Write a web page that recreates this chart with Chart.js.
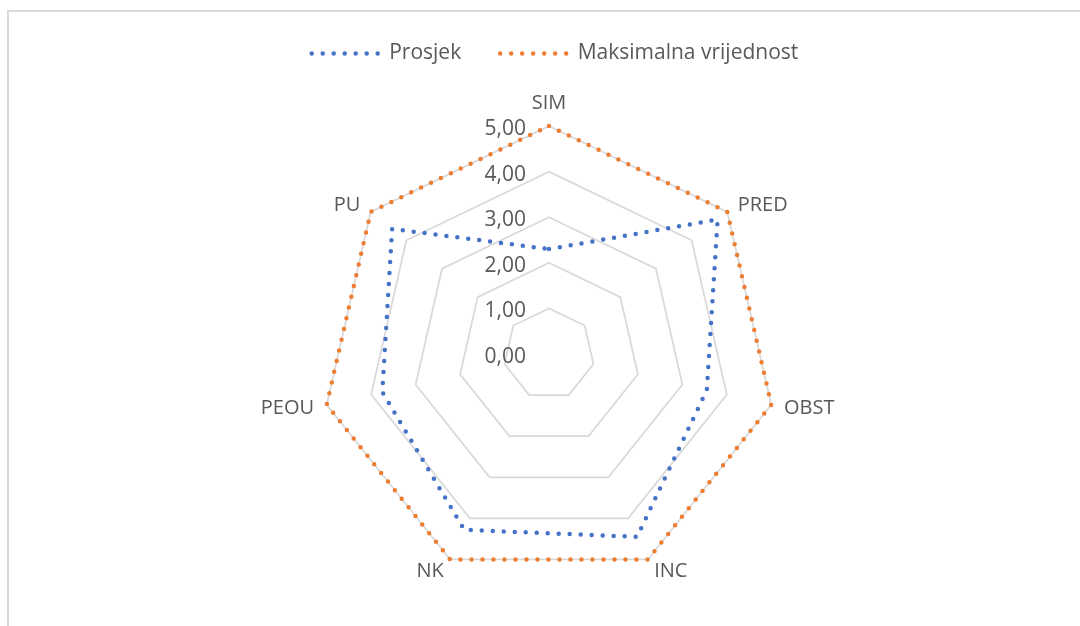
<!DOCTYPE html>
<html>
<head>
<meta charset="utf-8">
<script src="https://cdn.jsdelivr.net/npm/chart.js@4.4.1/dist/chart.umd.min.js"></script>
<style>
  html, body { margin: 0; padding: 0; background: #fff; }
  #wrap { position: relative; width: 1080px; height: 626px; overflow: hidden; }
  #frame { position: absolute; left: 7px; top: 10px; width: 1100px; height: 640px; border: 2px solid #d9d9d9; box-sizing: border-box; }
  #radarChart { position: absolute; left: 0; top: 0; }
</style>
</head>
<body>
<div id="wrap">
  <div id="frame"></div>
  <canvas id="radarChart" width="1080" height="626"></canvas>
</div>
<script>
// chart data
const categories = ["SIM", "PRED", "OBST", "INC", "NK", "PEOU", "PU"];
const prosjek = [2.30, 4.73, 3.55, 4.45, 4.28, 3.75, 4.40];
const maksimalna = [5.00, 5.00, 5.00, 5.00, 5.00, 5.00, 5.00];
const tickValues = [0, 1, 2, 3, 4, 5];

const textColor = "#595959";
const fontFamily = "'Open Sans', sans-serif";

function fmt(v) {
    return v.toFixed(2).replace(".", ",");
}

// draws the value labels left of the axis and the category labels, like Excel does
const excelLabels = {
    id: "excelLabels",
    afterDraw(chart) {
        const scale = chart.scales.r;
        const ctx = chart.ctx;
        ctx.save();
        ctx.fillStyle = textColor;
        ctx.textBaseline = "alphabetic";

        ctx.font = "21px " + fontFamily;
        ctx.textAlign = "right";
        tickValues.forEach(function (v) {
            const y = scale.yCenter - scale.getDistanceFromCenterForValue(v);
            ctx.fillText(fmt(v), scale.xCenter - 23, y + 9);
        });

        ctx.font = "20px " + fontFamily;
        categories.forEach(function (label, i) {
            const pos = scale.getPointPosition(i, scale.drawingArea + 12);
            const s = Math.sin(scale.getIndexAngle(i));
            if (Math.abs(s) < 0.05) {
                ctx.textAlign = "center";
                ctx.fillText(label, pos.x, pos.y - 5);
            } else {
                ctx.textAlign = s > 0 ? "left" : "right";
                ctx.fillText(label, pos.x + (s > 0 ? 1 : -1), pos.y + 7);
            }
        });
        ctx.restore();
    }
};

const ctx = document.getElementById("radarChart").getContext("2d");

new Chart(ctx, {
    type: "radar",
    data: {
        labels: categories,
        datasets: [
            {
                label: "Prosjek",
                data: prosjek,
                borderColor: "#4472C4",
                backgroundColor: "#4472C4",
                borderWidth: 4.5,
                borderDash: [0, 11],
                borderCapStyle: "round",
                pointRadius: 0,
                pointHoverRadius: 0,
                fill: false,
                tension: 0,
            },
            {
                label: "Maksimalna vrijednost",
                data: maksimalna,
                borderColor: "#ED7D31",
                backgroundColor: "#ED7D31",
                borderWidth: 4.5,
                borderDash: [0, 11],
                borderCapStyle: "round",
                pointRadius: 0,
                pointHoverRadius: 0,
                fill: false,
                tension: 0,
            },
        ],
    },
    options: {
        responsive: false,
        animation: false,
        layout: {
            padding: { top: 4, left: 36, right: 6 },
        },
        plugins: {
            tooltip: { enabled: false },
            legend: {
                position: "top",
                align: "center",
                labels: {
                    usePointStyle: true,
                    pointStyle: "line",
                    pointStyleWidth: 67,
                    padding: 39,
                    color: textColor,
                    font: { family: fontFamily, size: 21 },
                    // point style legend loses the dash, so copy it from the dataset
                    generateLabels: function (chart) {
                        const items = Chart.defaults.plugins.legend.labels.generateLabels(chart);
                        items.forEach(function (item) {
                            const ds = chart.data.datasets[item.datasetIndex];
                            item.lineDash = ds.borderDash;
                            item.lineCap = ds.borderCapStyle;
                            item.lineWidth = ds.borderWidth;
                            item.strokeStyle = ds.borderColor;
                        });
                        return items;
                    },
                },
            },
        },
        scales: {
            r: {
                min: 0,
                max: 5,
                ticks: { stepSize: 1, display: false },
                grid: { color: "#d9d9d9", lineWidth: 1.75, circular: false },
                angleLines: { display: false },
                pointLabels: { display: false },
                // pin the radar to the same spot as the original
                afterFit: function (scale) {
                    scale.xCenter = 549;
                    scale.yCenter = 354;
                    scale.drawingArea = 228;
                },
            },
        },
    },
    plugins: [excelLabels],
});
</script>
</body>
</html>
